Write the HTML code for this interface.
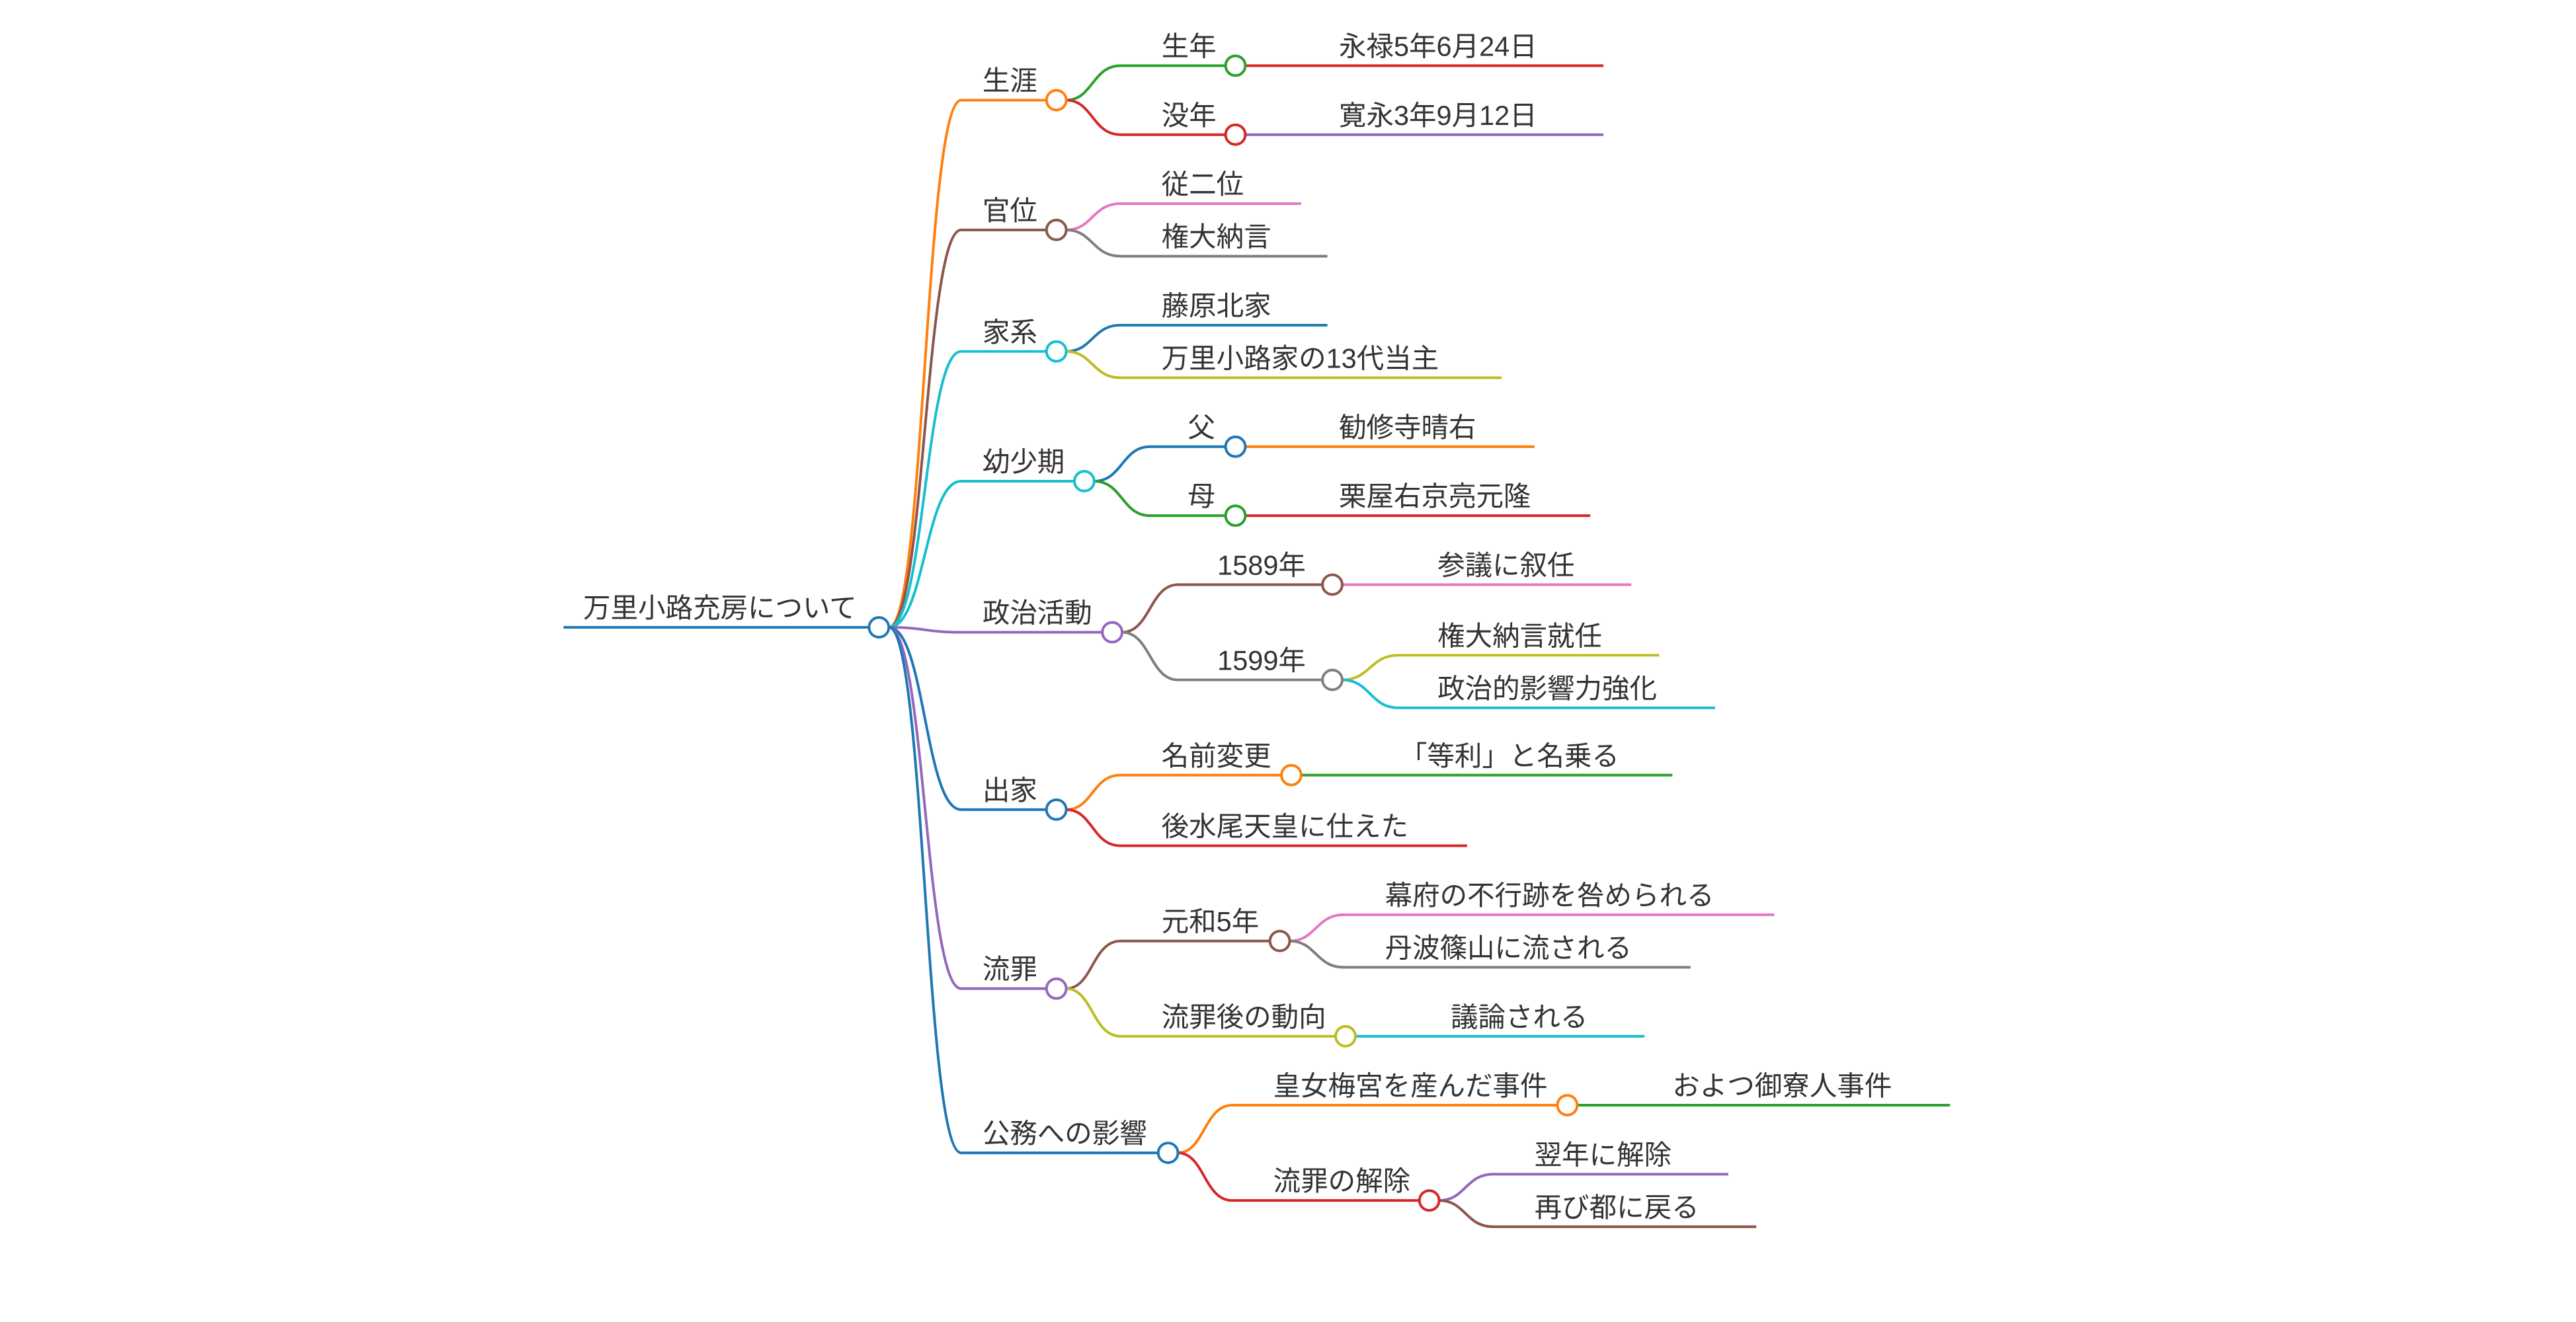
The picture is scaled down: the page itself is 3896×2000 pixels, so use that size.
<!DOCTYPE html>
<html><head><meta charset="utf-8"><style>
html,body{margin:0;padding:0;background:#fff;}
svg{display:block;}
text{font-family:"Liberation Sans","Noto Sans CJK JP",sans-serif;font-size:16.7px;fill:#333;}
path,line{fill:none;stroke-width:1.6;}
circle{fill:#fff;stroke-width:1.6;}
</style></head><body>
<svg width="3896" height="2000" viewBox="0 0 1568 805" preserveAspectRatio="none" xmlns="http://www.w3.org/2000/svg">
<line x1="343" y1="382" x2="529" y2="382" stroke="#1f77b4"/>
<text x="355" y="376">万里小路充房について</text>

<path d="M541,382 C563,382 563,61 585,61 L637,61" stroke="#ff7f0e"/>
<path d="M541,382 C563,382 563,140 585,140 L637,140" stroke="#8c564b"/>
<path d="M541,382 C563,382 563,214 585,214 L637,214" stroke="#17becf"/>
<path d="M541,382 C563,382 563,293 585,293 L654,293" stroke="#17becf"/>
<path d="M541,382 C563,382 563,385 585,385 L671,385" stroke="#9467bd"/>
<path d="M541,382 C563,382 563,493 585,493 L637,493" stroke="#1f77b4"/>
<path d="M541,382 C563,382 563,602 585,602 L637,602" stroke="#9467bd"/>
<path d="M541,382 C563,382 563,702 585,702 L705,702" stroke="#1f77b4"/>
<text x="598" y="55">生涯</text>
<text x="598" y="134">官位</text>
<text x="598" y="208">家系</text>
<text x="598" y="287">幼少期</text>
<text x="598" y="379">政治活動</text>
<text x="598" y="487">出家</text>
<text x="598" y="596">流罪</text>
<text x="598" y="696">公務への影響</text>

<path d="M649,61 C665,61 665,40 682,40 L746,40" stroke="#2ca02c"/>
<path d="M649,61 C665,61 665,82 682,82 L746,82" stroke="#d62728"/>
<line x1="758" y1="40" x2="976" y2="40" stroke="#d62728"/>
<line x1="758" y1="82" x2="976" y2="82" stroke="#9467bd"/>
<text x="707" y="34">生年</text>
<text x="707" y="76">没年</text>
<text x="815" y="34">永禄5年6月24日</text>
<text x="815" y="76">寛永3年9月12日</text>

<path d="M649,140 C665,140 665,124 682,124 L792,124" stroke="#e377c2"/>
<path d="M649,140 C665,140 665,156 682,156 L808,156" stroke="#7f7f7f"/>
<text x="707" y="118">従二位</text>
<text x="707" y="150">権大納言</text>

<path d="M649,214 C665,214 665,198 682,198 L808,198" stroke="#1f77b4"/>
<path d="M649,214 C665,214 665,230 682,230 L914,230" stroke="#bcbd22"/>
<text x="707" y="192">藤原北家</text>
<text x="707" y="224">万里小路家の13代当主</text>

<path d="M666,293 C683,293 683,272 700,272 L746,272" stroke="#1f77b4"/>
<path d="M666,293 C683,293 683,314 700,314 L746,314" stroke="#2ca02c"/>
<line x1="758" y1="272" x2="934" y2="272" stroke="#ff7f0e"/>
<line x1="758" y1="314" x2="968" y2="314" stroke="#d62728"/>
<text x="723" y="266">父</text>
<text x="723" y="308">母</text>
<text x="815" y="266">勧修寺晴右</text>
<text x="815" y="308">栗屋右京亮元隆</text>

<path d="M683,385 C700,385 700,356 717,356 L805,356" stroke="#8c564b"/>
<path d="M683,385 C700,385 700,414 717,414 L805,414" stroke="#7f7f7f"/>
<line x1="817" y1="356" x2="993" y2="356" stroke="#e377c2"/>
<path d="M817,414 C834,414 834,399 851,399 L1010,399" stroke="#bcbd22"/>
<path d="M817,414 C834,414 834,431 851,431 L1044,431" stroke="#17becf"/>
<text x="741" y="350">1589年</text>
<text x="741" y="408">1599年</text>
<text x="875" y="350">参議に叙任</text>
<text x="875" y="393">権大納言就任</text>
<text x="875" y="425">政治的影響力強化</text>

<path d="M649,493 C665,493 665,472 682,472 L780,472" stroke="#ff7f0e"/>
<path d="M649,493 C665,493 665,515 682,515 L893,515" stroke="#d62728"/>
<line x1="792" y1="472" x2="1018" y2="472" stroke="#2ca02c"/>
<text x="707" y="466">名前変更</text>
<text x="707" y="509">後水尾天皇に仕えた</text>
<text x="852" y="466">「等利」と名乗る</text>

<path d="M649,602 C665,602 665,573 682,573 L773,573" stroke="#8c564b"/>
<path d="M649,602 C665,602 665,631 682,631 L813,631" stroke="#bcbd22"/>
<path d="M785,573 C801,573 801,557 818,557 L1080,557" stroke="#e377c2"/>
<path d="M785,573 C801,573 801,589 818,589 L1029,589" stroke="#7f7f7f"/>
<line x1="825" y1="631" x2="1001" y2="631" stroke="#17becf"/>
<text x="707" y="567">元和5年</text>
<text x="707" y="625">流罪後の動向</text>
<text x="843" y="551">幕府の不行跡を咎められる</text>
<text x="843" y="583">丹波篠山に流される</text>
<text x="883" y="625">議論される</text>

<path d="M717,702 C733,702 733,673 750,673 L948,673" stroke="#ff7f0e"/>
<path d="M717,702 C733,702 733,731 750,731 L864,731" stroke="#d62728"/>
<line x1="960" y1="673" x2="1187" y2="673" stroke="#2ca02c"/>
<path d="M876,731 C892,731 892,715 909,715 L1052,715" stroke="#9467bd"/>
<path d="M876,731 C892,731 892,747 909,747 L1069,747" stroke="#8c564b"/>
<text x="775" y="667">皇女梅宮を産んだ事件</text>
<text x="775" y="725">流罪の解除</text>
<text x="1018" y="667">およつ御寮人事件</text>
<text x="934" y="709">翌年に解除</text>
<text x="934" y="741">再び都に戻る</text>

<circle cx="535" cy="382" r="6" stroke="#1f77b4"/>
<circle cx="643" cy="61" r="6" stroke="#ff7f0e"/>
<circle cx="643" cy="140" r="6" stroke="#8c564b"/>
<circle cx="643" cy="214" r="6" stroke="#17becf"/>
<circle cx="660" cy="293" r="6" stroke="#17becf"/>
<circle cx="677" cy="385" r="6" stroke="#9467bd"/>
<circle cx="643" cy="493" r="6" stroke="#1f77b4"/>
<circle cx="643" cy="602" r="6" stroke="#9467bd"/>
<circle cx="711" cy="702" r="6" stroke="#1f77b4"/>
<circle cx="752" cy="40" r="6" stroke="#2ca02c"/>
<circle cx="752" cy="82" r="6" stroke="#d62728"/>
<circle cx="752" cy="272" r="6" stroke="#1f77b4"/>
<circle cx="752" cy="314" r="6" stroke="#2ca02c"/>
<circle cx="811" cy="356" r="6" stroke="#8c564b"/>
<circle cx="811" cy="414" r="6" stroke="#7f7f7f"/>
<circle cx="786" cy="472" r="6" stroke="#ff7f0e"/>
<circle cx="779" cy="573" r="6" stroke="#8c564b"/>
<circle cx="819" cy="631" r="6" stroke="#bcbd22"/>
<circle cx="954" cy="673" r="6" stroke="#ff7f0e"/>
<circle cx="870" cy="731" r="6" stroke="#d62728"/>
</svg>
</body></html>
